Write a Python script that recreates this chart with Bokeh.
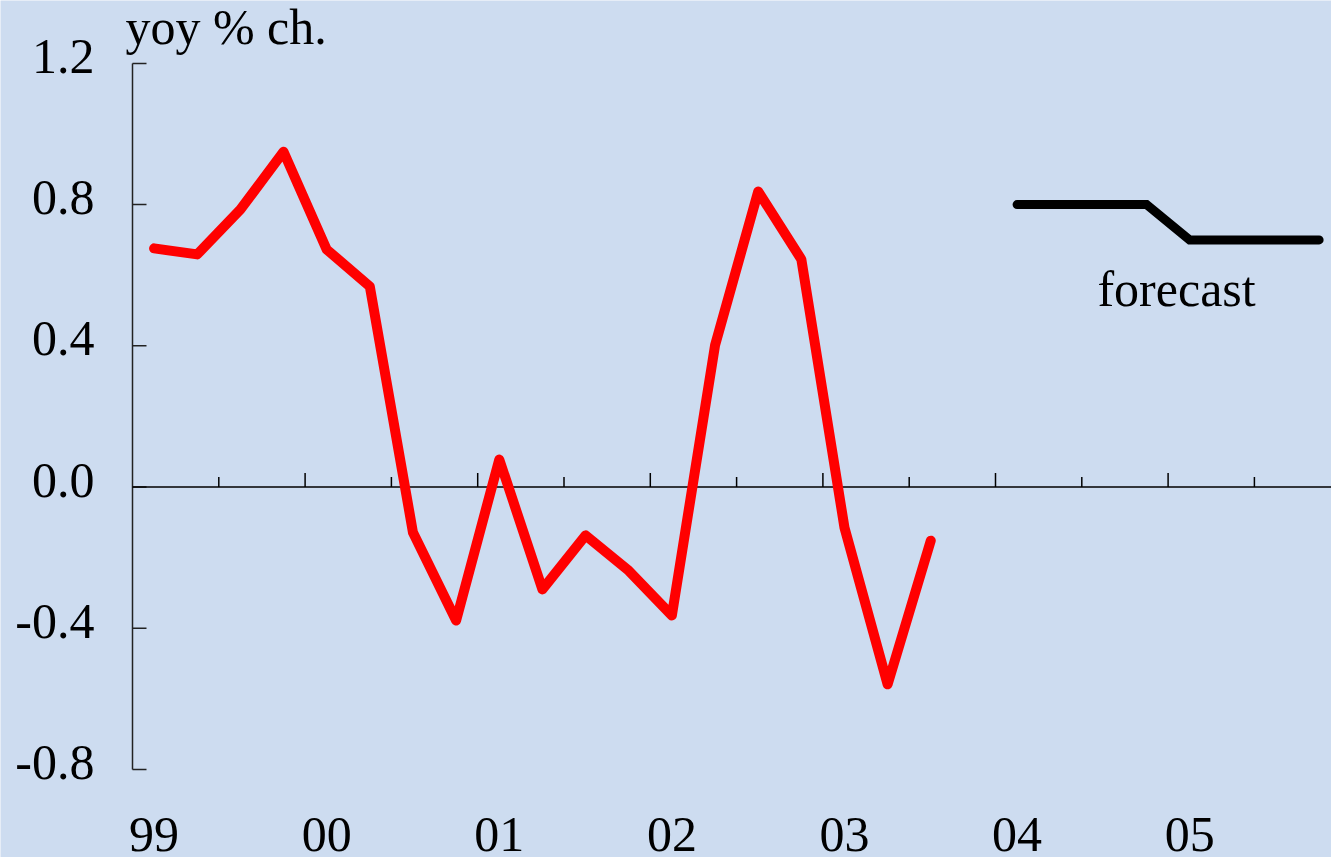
from bokeh.plotting import figure
from bokeh.models import Label
from bokeh.embed import file_html
from bokeh.resources import INLINE
from bokeh.core.properties import value

# ---- data ----
quarters = ["1999Q1", "1999Q2", "1999Q3", "1999Q4",
            "2000Q1", "2000Q2", "2000Q3", "2000Q4",
            "2001Q1", "2001Q2", "2001Q3", "2001Q4",
            "2002Q1", "2002Q2", "2002Q3", "2002Q4",
            "2003Q1", "2003Q2", "2003Q3"]
growth = [0.676, 0.659, 0.786, 0.950,
          0.673, 0.568, -0.129, -0.378,
          0.078, -0.290, -0.137, -0.237,
          -0.364, 0.401, 0.837, 0.645,
          -0.115, -0.559, -0.152]

fc_quarters = ["2004Q1", "2004Q2", "2004Q3", "2004Q4",
               "2005Q1", "2005Q2", "2005Q3", "2005Q4"]
forecast = [0.8, 0.8, 0.8, 0.8, 0.7, 0.7, 0.7, 0.7]

y_ticks = [-0.8, -0.4, 0.0, 0.4, 0.8, 1.2]
y_tick_labels = ["-0.8", "-0.4", "0.0", "0.4", "0.8", "1.2"]
year_labels = ["99", "00", "01", "02", "03", "04", "05"]
year_values = [1999, 2000, 2001, 2002, 2003, 2004, 2005]
major_ticks = [2000, 2001, 2002, 2003, 2004, 2005]
minor_ticks = [1999.5, 2000.5, 2001.5, 2002.5, 2003.5, 2004.5, 2005.5]
axis_start = 1999.0


def qpos(q):
    return int(q[:4]) + (int(q[-1]) - 0.5) / 4.0


FONT = "Liberation Serif"
FS = "50px"
BG = "#cddcf0"
PX_X = 172.6   # pixels per year
PX_Y = 353.0   # pixels per unit

x_lo = axis_start - 132 / PX_X
x_hi = axis_start + (1331 - 132) / PX_X

p = figure(width=1331, height=857,
           x_range=(x_lo, x_hi),
           y_range=(-(857 - 486.5) / PX_Y, 486.5 / PX_Y),
           output_backend="svg", toolbar_location=None,
           x_axis_location=None, y_axis_location=None,
           min_border_left=0, min_border_right=0,
           min_border_top=0, min_border_bottom=0,
           background_fill_color=BG, border_fill_color=BG,
           outline_line_color=None)
p.grid.visible = False

# y axis (spine, inward ticks, labels)
n = len(y_ticks)
p.segment(x0=[axis_start], y0=[min(y_ticks)], x1=[axis_start], y1=[max(y_ticks)],
          line_color="#222222", line_width=1.5)
p.segment(x0=[axis_start] * n, y0=y_ticks, x1=[axis_start + 14 / PX_X] * n, y1=y_ticks,
          line_color="#222222", line_width=1.5)
p.text(x=[axis_start - 38 / PX_X] * n, y=[t + 7 / PX_Y for t in y_ticks], text=y_tick_labels,
       text_font=value(FONT), text_font_size=FS, text_color="black",
       text_align="right", text_baseline="middle")

# zero line with upward ticks
p.segment(x0=[axis_start], y0=[0], x1=[x_hi], y1=[0], line_color="black", line_width=1.5)
p.segment(x0=major_ticks, y0=[0] * len(major_ticks), x1=major_ticks,
          y1=[14 / PX_Y] * len(major_ticks), line_color="black", line_width=1.5)
p.segment(x0=minor_ticks, y0=[0] * len(minor_ticks), x1=minor_ticks,
          y1=[10 / PX_Y] * len(minor_ticks), line_color="black", line_width=1.5)

# series
p.line([qpos(q) for q in quarters], growth, line_color="#ff0000", line_width=10,
       line_join="round", line_cap="round")
p.line([qpos(q) for q in fc_quarters], forecast, line_color="black", line_width=9,
       line_join="miter", line_cap="round")

# year labels along the bottom
p.text(x=[v + 0.125 for v in year_values], y=[-0.9844] * len(year_values), text=year_labels,
       text_font=value(FONT), text_font_size=FS, text_color="black",
       text_align="center", text_baseline="alphabetic")

p.add_layout(Label(x=2005.049, y=0.5595, text="forecast", text_font=FONT,
                   text_font_size=FS, text_color="black",
                   text_align="center", text_baseline="alphabetic"))
p.add_layout(Label(x=1998.959, y=1.3045, text="yoy % ch.", text_font=FONT,
                   text_font_size=FS, text_color="black",
                   text_align="left", text_baseline="alphabetic"))

open("out.html", "w").write(file_html(p, INLINE))
